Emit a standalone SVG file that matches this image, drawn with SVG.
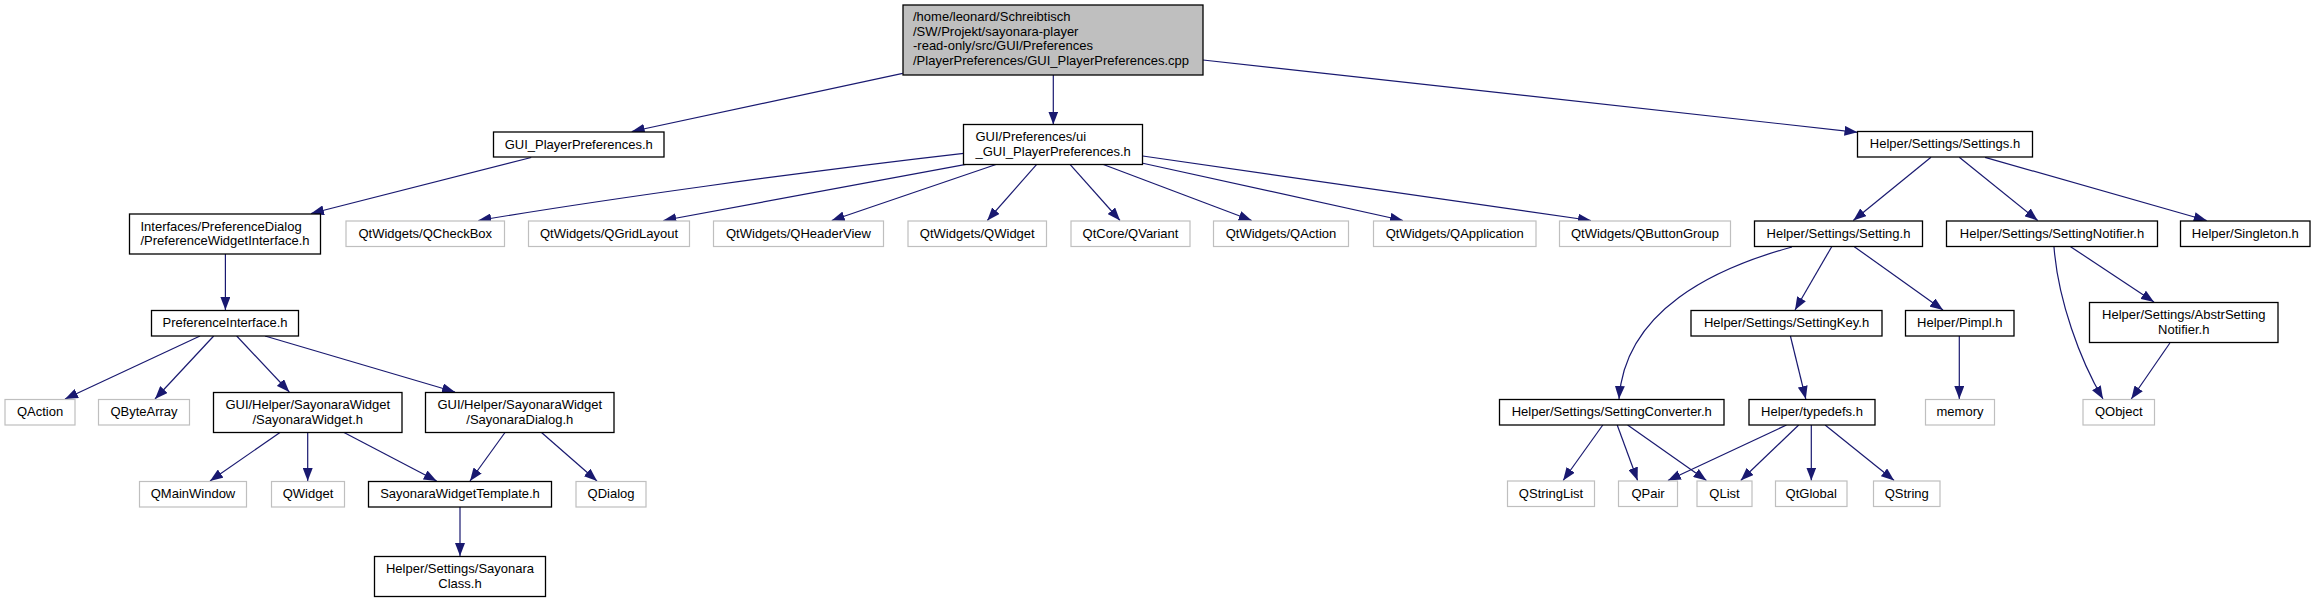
<svg xmlns="http://www.w3.org/2000/svg" width="2315" height="603" viewBox="0 0 2315 603">
<style>
text{font-family:"Liberation Sans",Arial,sans-serif;font-size:13px;fill:#000}
.c{text-anchor:middle}
.n rect{fill:#fff;stroke:#000;stroke-width:1.3}
.x rect{fill:#fff;stroke:#bfbfbf;stroke-width:1.2}
.r rect{fill:#bfbfbf;stroke:#000;stroke-width:1.3}
#edges path{fill:none;stroke:#191970;stroke-width:1.2;marker-end:url(#arr)}
</style>
<defs>
<marker id="arr" viewBox="0 0 13 10" refX="13" refY="5" markerWidth="13" markerHeight="10" markerUnits="userSpaceOnUse" orient="auto">
<path d="M0,0 L13,5 L0,10 z" fill="#191970"/>
</marker>
</defs>
<rect width="2315" height="603" fill="#fff"/>
<g id="edges">
<path d="M902.7,73.3 L631.7,131.5"/>
<path d="M1053.3,75 L1053.3,124.5"/>
<path d="M1203,60 L1857.5,132.3"/>
<path d="M531.2,157.5 L311,213.5"/>
<path d="M963.7,153.3 C800,172 600,200 478.3,220.5"/>
<path d="M966,164.3 L663.3,220.5"/>
<path d="M996.7,164.3 L831.7,220.5"/>
<path d="M1036.7,164.3 L987.3,220.5"/>
<path d="M1070,164.3 L1120,220.5"/>
<path d="M1102.7,164.3 L1251.7,220.5"/>
<path d="M1141.7,163 L1403,220.5"/>
<path d="M1142.7,156 L1591,220.5"/>
<path d="M225.4,254 L225.4,310"/>
<path d="M200,336 L65,399"/>
<path d="M213.7,336 L155,399"/>
<path d="M236.7,336 L289.3,392"/>
<path d="M265,336 L455,392"/>
<path d="M280,432.5 L210,481"/>
<path d="M307.7,432.5 L307.7,481"/>
<path d="M344,432.5 L436.7,481"/>
<path d="M505,432.5 L470,481"/>
<path d="M541.5,432.5 L597,481"/>
<path d="M460,507 L460,556"/>
<path d="M1931,157.3 L1853.3,220.5"/>
<path d="M1959.3,157.3 L2037.7,220.5"/>
<path d="M1985,157.3 L2206.7,220.5"/>
<path d="M1831.7,246.7 L1795,310"/>
<path d="M1854.3,246.7 L1943,310"/>
<path d="M1792,247 C1715,268 1625,310 1619,399"/>
<path d="M1790.4,336 L1805.8,399"/>
<path d="M1959.3,336 L1959.3,399"/>
<path d="M2070.6,246.7 L2154,302"/>
<path d="M2054,247 C2058,300 2080,360 2103,399"/>
<path d="M2169.9,343 L2131.3,399"/>
<path d="M1602.8,425 L1563.1,480.5"/>
<path d="M1617.2,425 L1637.6,480.5"/>
<path d="M1627.6,425 L1706.5,480.5"/>
<path d="M1786.5,425 L1667.9,480.5"/>
<path d="M1798.7,425 L1740.7,480.5"/>
<path d="M1811.3,425 L1811.3,480.5"/>
<path d="M1825.1,425 L1894.1,480.5"/>
</g>
<g id="root" class="r"><rect x="903" y="5" width="300" height="70"/>
<text x="913" y="21">/home/leonard/Schreibtisch</text>
<text x="913" y="35.7">/SW/Projekt/sayonara-player</text>
<text x="913" y="50.3">-read-only/src/GUI/Preferences</text>
<text x="913" y="65">/PlayerPreferences/GUI_PlayerPreferences.cpp</text></g>
<g id="gui_pp" class="n"><rect x="493.5" y="132" width="170.5" height="25"/><text class="c" x="578.75" y="148.5">GUI_PlayerPreferences.h</text></g>
<g id="ui" class="n"><rect x="963.5" y="124.5" width="179" height="40"/>
<text x="975.5" y="141">GUI/Preferences/ui</text>
<text x="975.5" y="155.7">_GUI_PlayerPreferences.h</text></g>
<g id="settings" class="n"><rect x="1857.5" y="131.5" width="175" height="25.5"/><text class="c" x="1945" y="148">Helper/Settings/Settings.h</text></g>
<g id="interfaces" class="n"><rect x="129.5" y="214" width="191" height="40"/>
<text x="140.5" y="230.6">Interfaces/PreferenceDialog</text>
<text x="140.5" y="245.2">/PreferenceWidgetInterface.h</text></g>
<g id="qcheckbox" class="x"><rect x="346" y="221" width="158.5" height="25.5"/><text class="c" x="425.25" y="237.6">QtWidgets/QCheckBox</text></g>
<g id="qgridlayout" class="x"><rect x="528.5" y="221" width="161" height="25.5"/><text class="c" x="609" y="237.6">QtWidgets/QGridLayout</text></g>
<g id="qheaderview" class="x"><rect x="713.5" y="221" width="170" height="25.5"/><text class="c" x="798.5" y="237.6">QtWidgets/QHeaderView</text></g>
<g id="qtwidgets_qwidget" class="x"><rect x="908" y="221" width="138.5" height="25.5"/><text class="c" x="977.25" y="237.6">QtWidgets/QWidget</text></g>
<g id="qvariant" class="x"><rect x="1071" y="221" width="119" height="25.5"/><text class="c" x="1130.5" y="237.6">QtCore/QVariant</text></g>
<g id="qtwidgets_qaction" class="x"><rect x="1213.5" y="221" width="135" height="25.5"/><text class="c" x="1281" y="237.6">QtWidgets/QAction</text></g>
<g id="qapplication" class="x"><rect x="1373.5" y="221" width="162.5" height="25.5"/><text class="c" x="1454.75" y="237.6">QtWidgets/QApplication</text></g>
<g id="qbuttongroup" class="x"><rect x="1559.5" y="221" width="171" height="25.5"/><text class="c" x="1645" y="237.6">QtWidgets/QButtonGroup</text></g>
<g id="setting" class="n"><rect x="1754.5" y="221" width="168" height="25.5"/><text class="c" x="1838.5" y="237.6">Helper/Settings/Setting.h</text></g>
<g id="settingnotifier" class="n"><rect x="1946.5" y="221" width="211" height="25.5"/><text class="c" x="2052" y="237.6">Helper/Settings/SettingNotifier.h</text></g>
<g id="singleton" class="n"><rect x="2180.5" y="221" width="129.5" height="25.5"/><text class="c" x="2245.25" y="237.6">Helper/Singleton.h</text></g>
<g id="prefinterface" class="n"><rect x="151.5" y="310.5" width="147" height="25.5"/><text class="c" x="225" y="327.1">PreferenceInterface.h</text></g>
<g id="settingkey" class="n"><rect x="1691" y="310.5" width="191" height="25.5"/><text class="c" x="1786.5" y="327.1">Helper/Settings/SettingKey.h</text></g>
<g id="pimpl" class="n"><rect x="1905.5" y="310.5" width="108.5" height="25.5"/><text class="c" x="1959.75" y="327.1">Helper/Pimpl.h</text></g>
<g id="abstrsn" class="n"><rect x="2089.5" y="302.5" width="188.5" height="40"/>
<text class="c" x="2183.75" y="319.1">Helper/Settings/AbstrSetting</text>
<text class="c" x="2183.75" y="333.7">Notifier.h</text></g>
<g id="qaction" class="x"><rect x="5" y="399.5" width="70" height="25.5"/><text class="c" x="40" y="416.1">QAction</text></g>
<g id="qbytearray" class="x"><rect x="98.5" y="399.5" width="91" height="25.5"/><text class="c" x="144" y="416.1">QByteArray</text></g>
<g id="sayonarawidget" class="n"><rect x="213.5" y="392.5" width="188.5" height="40"/>
<text class="c" x="307.75" y="409.1">GUI/Helper/SayonaraWidget</text>
<text class="c" x="307.75" y="423.7">/SayonaraWidget.h</text></g>
<g id="sayonaradialog" class="n"><rect x="425.5" y="392.5" width="188.5" height="40"/>
<text class="c" x="519.75" y="409.1">GUI/Helper/SayonaraWidget</text>
<text class="c" x="519.75" y="423.7">/SayonaraDialog.h</text></g>
<g id="settingconverter" class="n"><rect x="1499.5" y="399.5" width="224.5" height="25.5"/><text class="c" x="1611.75" y="416.1">Helper/Settings/SettingConverter.h</text></g>
<g id="typedefs" class="n"><rect x="1749" y="399.5" width="126" height="25.5"/><text class="c" x="1812" y="416.1">Helper/typedefs.h</text></g>
<g id="memory" class="x"><rect x="1925.5" y="399.5" width="69" height="25.5"/><text class="c" x="1960" y="416.1">memory</text></g>
<g id="qobject" class="x"><rect x="2083" y="399.5" width="71.5" height="25.5"/><text class="c" x="2118.75" y="416.1">QObject</text></g>
<g id="qmainwindow" class="x"><rect x="139.5" y="481.5" width="107" height="25.5"/><text class="c" x="193" y="498.1">QMainWindow</text></g>
<g id="qwidget" class="x"><rect x="271.5" y="481.5" width="73" height="25.5"/><text class="c" x="308" y="498.1">QWidget</text></g>
<g id="template" class="n"><rect x="368.5" y="481.5" width="183" height="25.5"/><text class="c" x="460" y="498.1">SayonaraWidgetTemplate.h</text></g>
<g id="qdialog" class="x"><rect x="576" y="481.5" width="70" height="25.5"/><text class="c" x="611" y="498.1">QDialog</text></g>
<g id="qstringlist" class="x"><rect x="1507.5" y="481" width="87" height="25.5"/><text class="c" x="1551" y="497.6">QStringList</text></g>
<g id="qpair" class="x"><rect x="1618.5" y="481" width="59" height="25.5"/><text class="c" x="1648" y="497.6">QPair</text></g>
<g id="qlist" class="x"><rect x="1697" y="481" width="55" height="25.5"/><text class="c" x="1724.5" y="497.6">QList</text></g>
<g id="qtglobal" class="x"><rect x="1775.5" y="481" width="71.5" height="25.5"/><text class="c" x="1811.25" y="497.6">QtGlobal</text></g>
<g id="qstring" class="x"><rect x="1873.5" y="481" width="66.5" height="25.5"/><text class="c" x="1906.75" y="497.6">QString</text></g>
<g id="sayonaraclass" class="n"><rect x="374.5" y="556.5" width="171" height="40"/>
<text class="c" x="460" y="573.1">Helper/Settings/Sayonara</text>
<text class="c" x="460" y="587.7">Class.h</text></g>
</svg>
